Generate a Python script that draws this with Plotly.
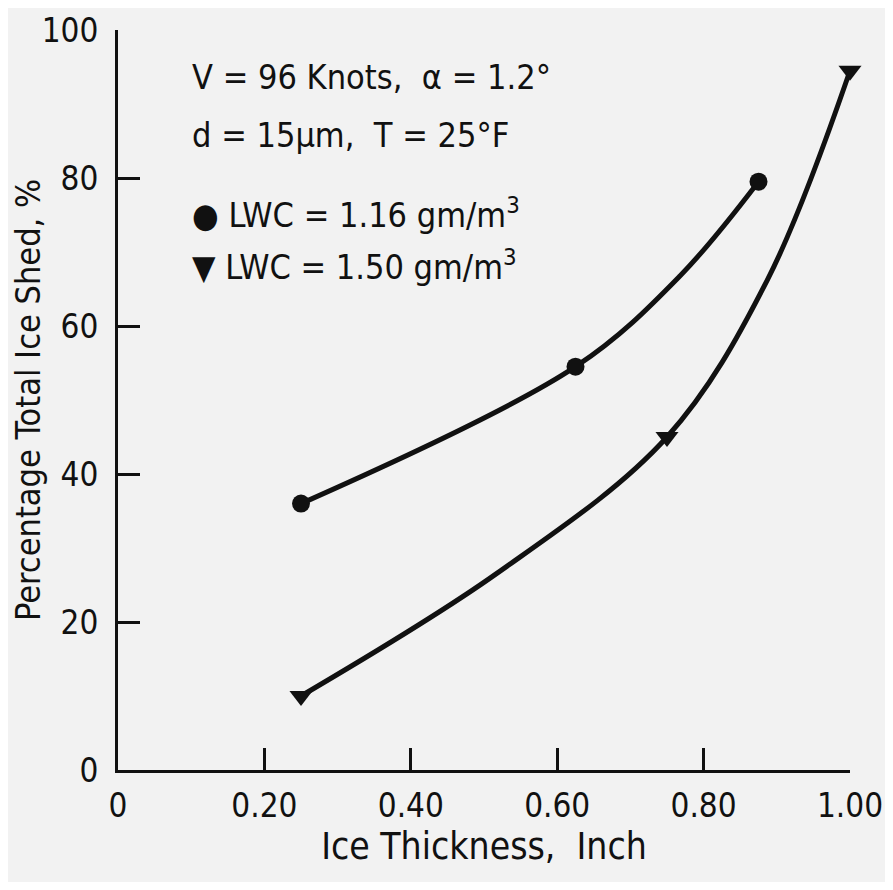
import plotly.graph_objects as go

# Data points
ice_thickness_a = [0.25, 0.625, 0.875]
shed_a = [36.0, 54.5, 79.5]          # LWC = 1.16 gm/m3 (circles)

ice_thickness_b = [0.25, 0.75, 1.0]
shed_b = [10.0, 45.0, 94.5]          # LWC = 1.50 gm/m3 (triangles)

# Faired curves, positions
curve_x_a = [0.25, 0.625, 0.768, 0.875]
curve_y_a = [36.0, 54.5, 66.8, 79.5]

curve_x_b = [0.25, 0.518, 0.75, 0.887, 1.0]
curve_y_b = [10.0, 26.6, 45.0, 66.2, 94.5]

x_tickvals = [0, 0.2, 0.4, 0.6, 0.8, 1.0]
x_ticktext = ["0", "0.20", "0.40", "0.60", "0.80", "1.00"]
y_tickvals = [0, 20, 40, 60, 80, 100]
y_ticktext = ["0", "20", "40", "60", "80", "100"]

FONT = "DejaVu Sans Condensed, Liberation Sans Narrow, sans-serif"
INK = "#111111"
BG = "#f2f2f2"

fig = go.Figure()
for cx, cy in [(curve_x_a, curve_y_a), (curve_x_b, curve_y_b)]:
    fig.add_trace(go.Scatter(
        x=cx, y=cy, mode="lines",
        line=dict(color=INK, width=5, shape="spline", smoothing=1.0),
        cliponaxis=False, showlegend=False, hoverinfo="skip"))
fig.add_trace(go.Scatter(
    x=ice_thickness_a, y=shed_a, mode="markers",
    marker=dict(symbol="circle", size=18, color=INK),
    cliponaxis=False, showlegend=False))
fig.add_trace(go.Scatter(
    x=ice_thickness_b, y=shed_b, mode="markers",
    marker=dict(symbol="triangle-down", size=20, color=INK),
    cliponaxis=False, showlegend=False))

ann_font = dict(family=FONT, size=34, color=INK)
notes = [
    (0.098, 0.936, "V = 96 Knots,  α = 1.2°"),
    (0.098, 0.858, "d = 15µm,  T = 25°F"),
    (0.098, 0.753, "● LWC = 1.16 gm/m<sup>3</sup>"),
    (0.098, 0.682, "▼ LWC = 1.50 gm/m<sup>3</sup>"),
]
for xx, yy, txt in notes:
    fig.add_annotation(x=xx, y=yy, xref="paper", yref="paper", text=txt,
                       showarrow=False, xanchor="left", yanchor="middle",
                       font=ann_font)

fig.update_layout(
    width=877, height=874,
    margin=dict(l=110, r=35, t=22, b=112, autoexpand=False),
    paper_bgcolor=BG, plot_bgcolor=BG,
    font=dict(family=FONT, size=32, color=INK),
)
fig.update_xaxes(
    range=[0, 1.0], tickvals=x_tickvals, ticktext=x_ticktext,
    showgrid=False, zeroline=False, showline=True, linecolor=INK, linewidth=3,
    ticks="inside", ticklen=22, tickwidth=3, tickcolor=INK, automargin=False,
    tickfont=dict(family=FONT, size=33, color=INK), ticklabelstandoff=4,
    title=dict(text="Ice Thickness,  Inch", font=dict(family=FONT, size=37, color=INK), standoff=10),
)
fig.update_yaxes(
    range=[0, 100], tickvals=y_tickvals, ticktext=y_ticktext,
    showgrid=False, zeroline=False, showline=True, linecolor=INK, linewidth=3,
    ticks="inside", ticklen=22, tickwidth=3, tickcolor=INK, automargin=False,
    tickfont=dict(family=FONT, size=33, color=INK), ticklabelstandoff=10,
    title=dict(text="Percentage Total Ice Shed, %", font=dict(family=FONT, size=34, color=INK), standoff=8),
)

fig.write_html("out.html")
